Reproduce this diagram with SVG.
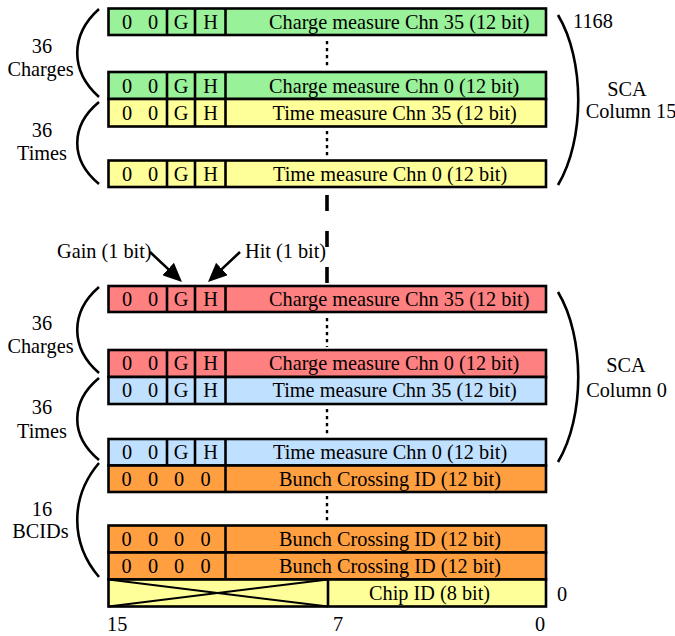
<svg xmlns="http://www.w3.org/2000/svg" width="675" height="636" viewBox="0 0 675 636" font-family="'Liberation Serif', 'Times New Roman', serif">
<style>
text{font-family:"Liberation Serif","Times New Roman",serif;font-size:20.3px;fill:#000}
.c{text-anchor:middle}
.box{stroke:#000;stroke-width:2.6}
.div{stroke:#000;stroke-width:2.6}
.g{fill:#99F299}.y{fill:#FFFF99}.r{fill:#FF8080}.b{fill:#C0E0FF}.o{fill:#FF9F40}
.brace{fill:none;stroke:#000;stroke-width:2.6}
.dot{stroke:#000;stroke-width:2.4;stroke-dasharray:3.2 3.8}
.dash{stroke:#000;stroke-width:3.6;stroke-dasharray:16 20}
.arr{stroke:#000;stroke-width:2.6;fill:none}
.x{stroke:#000;stroke-width:2}
</style>
<defs>
<marker id="ah" viewBox="0 0 19 17" refX="14" refY="8.5" markerWidth="19" markerHeight="17" markerUnits="userSpaceOnUse" orient="auto">
<path d="M0,0 L19,8.5 L0,17 Z" fill="#000"/>
</marker>
</defs>

<!-- Top group: SCA Column 15 -->
<g id="t-charge35">
<rect class="box g" x="108.5" y="8.5" width="437.5" height="26.5"/>
<line class="div" x1="167" y1="8.5" x2="167" y2="35"/>
<line class="div" x1="195" y1="8.5" x2="195" y2="35"/>
<line class="div" x1="225.5" y1="8.5" x2="225.5" y2="35"/>
<text class="c" x="127" y="28.5">0</text><text class="c" x="153" y="28.5">0</text>
<text class="c" x="181" y="28.5">G</text><text class="c" x="210.5" y="28.5">H</text>
<text x="269" y="28.5">Charge measure Chn 35 (12 bit)</text>
</g>
<g id="t-charge0">
<rect class="box g" x="108.5" y="72" width="437.5" height="27"/>
<line class="div" x1="167" y1="72" x2="167" y2="99"/>
<line class="div" x1="195" y1="72" x2="195" y2="99"/>
<line class="div" x1="225.5" y1="72" x2="225.5" y2="99"/>
<text class="c" x="127" y="92.5">0</text><text class="c" x="153" y="92.5">0</text>
<text class="c" x="181" y="92.5">G</text><text class="c" x="210.5" y="92.5">H</text>
<text x="269" y="92.5">Charge measure Chn 0 (12 bit)</text>
</g>
<g id="t-time35">
<rect class="box y" x="108.5" y="99" width="437.5" height="27.5"/>
<line class="div" x1="167" y1="99" x2="167" y2="126.5"/>
<line class="div" x1="195" y1="99" x2="195" y2="126.5"/>
<line class="div" x1="225.5" y1="99" x2="225.5" y2="126.5"/>
<text class="c" x="127" y="120">0</text><text class="c" x="153" y="120">0</text>
<text class="c" x="181" y="120">G</text><text class="c" x="210.5" y="120">H</text>
<text x="272.5" y="120">Time measure Chn 35 (12 bit)</text>
</g>
<g id="t-time0">
<rect class="box y" x="108.5" y="160.5" width="437.5" height="26.5"/>
<line class="div" x1="167" y1="160.5" x2="167" y2="187"/>
<line class="div" x1="195" y1="160.5" x2="195" y2="187"/>
<line class="div" x1="225.5" y1="160.5" x2="225.5" y2="187"/>
<text class="c" x="127" y="181">0</text><text class="c" x="153" y="181">0</text>
<text class="c" x="181" y="181">G</text><text class="c" x="210.5" y="181">H</text>
<text x="273" y="181">Time measure Chn 0 (12 bit)</text>
</g>

<!-- Bottom group: SCA Column 0 -->
<g id="b-charge35">
<rect class="box r" x="108.5" y="286" width="437.5" height="26"/>
<line class="div" x1="167" y1="286" x2="167" y2="312"/>
<line class="div" x1="195" y1="286" x2="195" y2="312"/>
<line class="div" x1="225.5" y1="286" x2="225.5" y2="312"/>
<text class="c" x="127" y="306">0</text><text class="c" x="153" y="306">0</text>
<text class="c" x="181" y="306">G</text><text class="c" x="210.5" y="306">H</text>
<text x="269" y="306">Charge measure Chn 35 (12 bit)</text>
</g>
<g id="b-charge0">
<rect class="box r" x="108.5" y="350" width="437.5" height="27"/>
<line class="div" x1="167" y1="350" x2="167" y2="377"/>
<line class="div" x1="195" y1="350" x2="195" y2="377"/>
<line class="div" x1="225.5" y1="350" x2="225.5" y2="377"/>
<text class="c" x="127" y="370">0</text><text class="c" x="153" y="370">0</text>
<text class="c" x="181" y="370">G</text><text class="c" x="210.5" y="370">H</text>
<text x="269" y="370">Charge measure Chn 0 (12 bit)</text>
</g>
<g id="b-time35">
<rect class="box b" x="108.5" y="377" width="437.5" height="27"/>
<line class="div" x1="167" y1="377" x2="167" y2="404"/>
<line class="div" x1="195" y1="377" x2="195" y2="404"/>
<line class="div" x1="225.5" y1="377" x2="225.5" y2="404"/>
<text class="c" x="127" y="397">0</text><text class="c" x="153" y="397">0</text>
<text class="c" x="181" y="397">G</text><text class="c" x="210.5" y="397">H</text>
<text x="272.5" y="397">Time measure Chn 35 (12 bit)</text>
</g>
<g id="b-time0">
<rect class="box b" x="108.5" y="439" width="437.5" height="26.5"/>
<line class="div" x1="167" y1="439" x2="167" y2="465.5"/>
<line class="div" x1="195" y1="439" x2="195" y2="465.5"/>
<line class="div" x1="225.5" y1="439" x2="225.5" y2="465.5"/>
<text class="c" x="127" y="459">0</text><text class="c" x="153" y="459">0</text>
<text class="c" x="181" y="459">G</text><text class="c" x="210.5" y="459">H</text>
<text x="273" y="459">Time measure Chn 0 (12 bit)</text>
</g>
<g id="bcid-1">
<rect class="box o" x="108.5" y="465.5" width="437.5" height="26.5"/>
<line class="div" x1="225.5" y1="465.5" x2="225.5" y2="492"/>
<text class="c" x="126.5" y="486">0</text><text class="c" x="153" y="486">0</text>
<text class="c" x="179" y="486">0</text><text class="c" x="205.5" y="486">0</text>
<text x="279" y="486">Bunch Crossing ID (12 bit)</text>
</g>
<g id="bcid-2">
<rect class="box o" x="108.5" y="525.5" width="437.5" height="27"/>
<line class="div" x1="225.5" y1="525.5" x2="225.5" y2="552.5"/>
<text class="c" x="126.5" y="546">0</text><text class="c" x="153" y="546">0</text>
<text class="c" x="179" y="546">0</text><text class="c" x="205.5" y="546">0</text>
<text x="279" y="546">Bunch Crossing ID (12 bit)</text>
</g>
<g id="bcid-3">
<rect class="box o" x="108.5" y="552.5" width="437.5" height="27"/>
<line class="div" x1="225.5" y1="552.5" x2="225.5" y2="579.5"/>
<text class="c" x="126.5" y="573">0</text><text class="c" x="153" y="573">0</text>
<text class="c" x="179" y="573">0</text><text class="c" x="205.5" y="573">0</text>
<text x="279" y="573">Bunch Crossing ID (12 bit)</text>
</g>
<g id="chip-id">
<rect class="box y" x="108.5" y="579.5" width="437.5" height="27"/>
<line class="div" x1="328" y1="579.5" x2="328" y2="606.5"/>
<line class="x" x1="108.5" y1="579.5" x2="328" y2="606.5"/>
<line class="x" x1="108.5" y1="606.5" x2="328" y2="579.5"/>
<text x="369" y="600">Chip ID (8 bit)</text>
</g>

<!-- Connectors: dots, dashes, arrows -->
<g id="connectors">
<line class="dot" x1="327" y1="41" x2="327" y2="69"/>
<line class="dot" x1="327" y1="131" x2="327" y2="159"/>
<line class="dash" x1="327" y1="195" x2="327" y2="284"/>
<line class="dot" x1="327" y1="318" x2="327" y2="347"/>
<line class="dot" x1="327" y1="409" x2="327" y2="437"/>
<line class="dot" x1="327" y1="496" x2="327" y2="523"/>
<line class="arr" x1="150" y1="252" x2="178.35" y2="278.58" marker-end="url(#ah)"/>
<line class="arr" x1="240" y1="252" x2="211.65" y2="278.58" marker-end="url(#ah)"/>
</g>

<!-- Braces -->
<g id="braces">
<path class="brace" d="M99,9 C70,35 70,71 99,97"/>
<path class="brace" d="M99,102 C70,126 70,160 99,184"/>
<path class="brace" d="M99,287 C70,312 70,348 99,373"/>
<path class="brace" d="M99,378 C70,402 70,436 99,460"/>
<path class="brace" d="M99,463 C70,497 70,543 99,577"/>
<path class="brace" d="M558,15 C585,60 585,140 558,185"/>
<path class="brace" d="M558,292 C585,337 585,417 558,462"/>
</g>

<!-- Labels -->
<g id="labels">
<text class="c" x="42" y="53">36</text>
<text class="c" x="40.5" y="75.5">Charges</text>
<text class="c" x="42" y="137">36</text>
<text class="c" x="42" y="160">Times</text>
<text class="c" x="42" y="330">36</text>
<text class="c" x="40.5" y="353">Charges</text>
<text class="c" x="42" y="414">36</text>
<text class="c" x="42" y="438">Times</text>
<text class="c" x="42" y="516">16</text>
<text class="c" x="40.5" y="538">BCIDs</text>
<text x="573" y="28">1168</text>
<text class="c" x="627" y="95.5">SCA</text>
<text class="c" x="631" y="118">Column 15</text>
<text class="c" x="626" y="372">SCA</text>
<text class="c" x="626.5" y="396.5">Column 0</text>
<text x="57" y="258">Gain (1 bit)</text>
<text x="245" y="258">Hit (1 bit)</text>
<text x="107" y="631">15</text>
<text x="333" y="631">7</text>
<text x="535" y="631">0</text>
<text x="557" y="601">0</text>
</g>
</svg>
